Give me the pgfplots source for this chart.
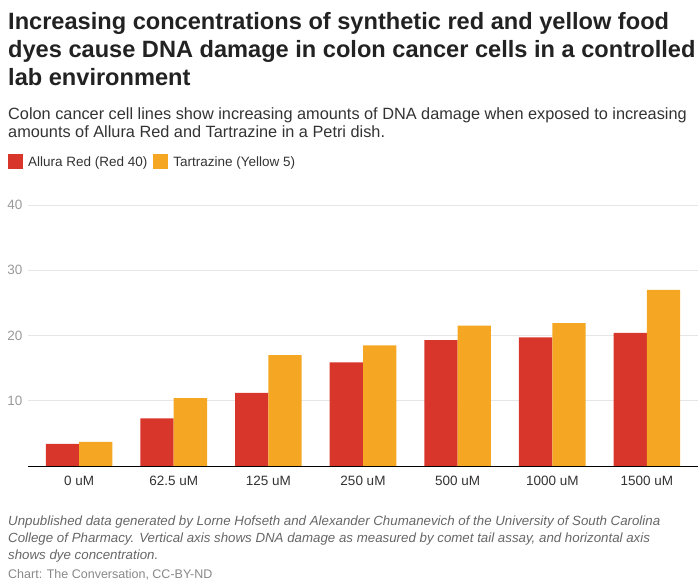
\documentclass[border=0pt]{standalone}
\usepackage{pgfplots}
\pgfplotsset{compat=1.18}
\usepackage{fontspec}
\setmainfont{Liberation Sans}
\definecolor{redbar}{HTML}{D9362B}
\definecolor{yellowbar}{HTML}{F5A623}
\definecolor{titlec}{HTML}{222222}
\definecolor{subc}{HTML}{333333}
\definecolor{notec}{HTML}{666666}
\definecolor{creditc}{HTML}{888888}
\definecolor{gridc}{HTML}{E6E6E6}
\definecolor{tickc}{HTML}{9A9A9A}
\begin{document}
\begin{tikzpicture}
\useasboundingbox (0,0) rectangle (700bp,-586bp);
% titles
\begin{scope}[every node/.style={anchor=base west, inner sep=0pt, text=titlec}]
\node at (8bp,-29bp) {\fontsize{23.6bp}{27bp}\selectfont\bfseries Increasing concentrations of synthetic red and yellow food};
\node at (8bp,-57bp) {\fontsize{23.6bp}{27bp}\selectfont\bfseries dyes cause DNA damage in colon cancer cells in a controlled};
\node at (8bp,-85bp) {\fontsize{23.6bp}{27bp}\selectfont\bfseries lab environment};
\end{scope}
\begin{scope}[every node/.style={anchor=base west, inner sep=0pt, text=subc}]
\node at (8bp,-119bp) {\fontsize{16.3bp}{19bp}\selectfont Colon cancer cell lines show increasing amounts of DNA damage when exposed to increasing};
\node at (8bp,-137bp) {\fontsize{16.3bp}{19bp}\selectfont amounts of Allura Red and Tartrazine in a Petri dish.};
\end{scope}
\begin{scope}[every node/.style={anchor=base west, inner sep=0pt, text=notec}]
\node at (8bp,-525bp) {\fontsize{13.3bp}{15bp}\selectfont\itshape Unpublished data generated by Lorne Hofseth and Alexander Chumanevich of the University of South Carolina};
\node at (8bp,-542bp) {\fontsize{13.3bp}{15bp}\selectfont\itshape College of Pharmacy. Vertical axis shows DNA damage as measured by comet tail assay, and horizontal axis};
\node at (8bp,-559bp) {\fontsize{13.3bp}{15bp}\selectfont\itshape shows dye concentration.};
\node[text=creditc] at (8bp,-578bp) {\fontsize{12.5bp}{14bp}\selectfont Chart: The Conversation, CC-BY-ND};
\end{scope}
\begin{axis}[
  at={(28bp,-466bp)}, anchor=south west,
  scale only axis, width=670bp, height=261bp,
  ybar=0pt, bar width=0.352,
  xmin=-0.54, xmax=6.54, ymin=0, ymax=40,
  xtick={0,1,2,3,4,5,6},
  xticklabels={0 uM, 62.5 uM, 125 uM, 250 uM, 500 uM, 1000 uM, 1500 uM},
  ytick={10,20,30,40},
  axis line style={draw=none},
  major tick length=0pt,
  ymajorgrids, grid style={gridc, line width=1pt},
  tick label style={font=\fontsize{13.5bp}{15bp}\selectfont},
  xticklabel style={text=subc, yshift=-7bp},
  yticklabel style={text=tickc, xshift=-2bp},
  /pgf/number format/assume math mode=true,
  legend style={at={(-0.03,1.165)}, anchor=west, draw=none, fill=none,
    inner sep=0pt,
    legend columns=2, font=\fontsize{13.5bp}{15bp}\selectfont, text=subc,
    /tikz/every even column/.append style={column sep=4bp}},
  legend image code/.code={\fill[#1] (0bp,-7.5bp) rectangle (14.5bp,7.5bp); \path (18bp,0bp);},
]
\addplot[fill=redbar, draw=none] coordinates {(0,3.4) (1,7.3) (2,11.2) (3,15.9) (4,19.3) (5,19.7) (6,20.4)};
\addplot[fill=yellowbar, draw=none] coordinates {(0,3.7) (1,10.4) (2,17.0) (3,18.5) (4,21.5) (5,21.9) (6,27.0)};
\legend{Allura Red (Red 40), Tartrazine (Yellow 5)}
\draw[black, line width=0.9pt] (rel axis cs:0,0) -- (rel axis cs:1,0);
\end{axis}
\end{tikzpicture}
\end{document}
